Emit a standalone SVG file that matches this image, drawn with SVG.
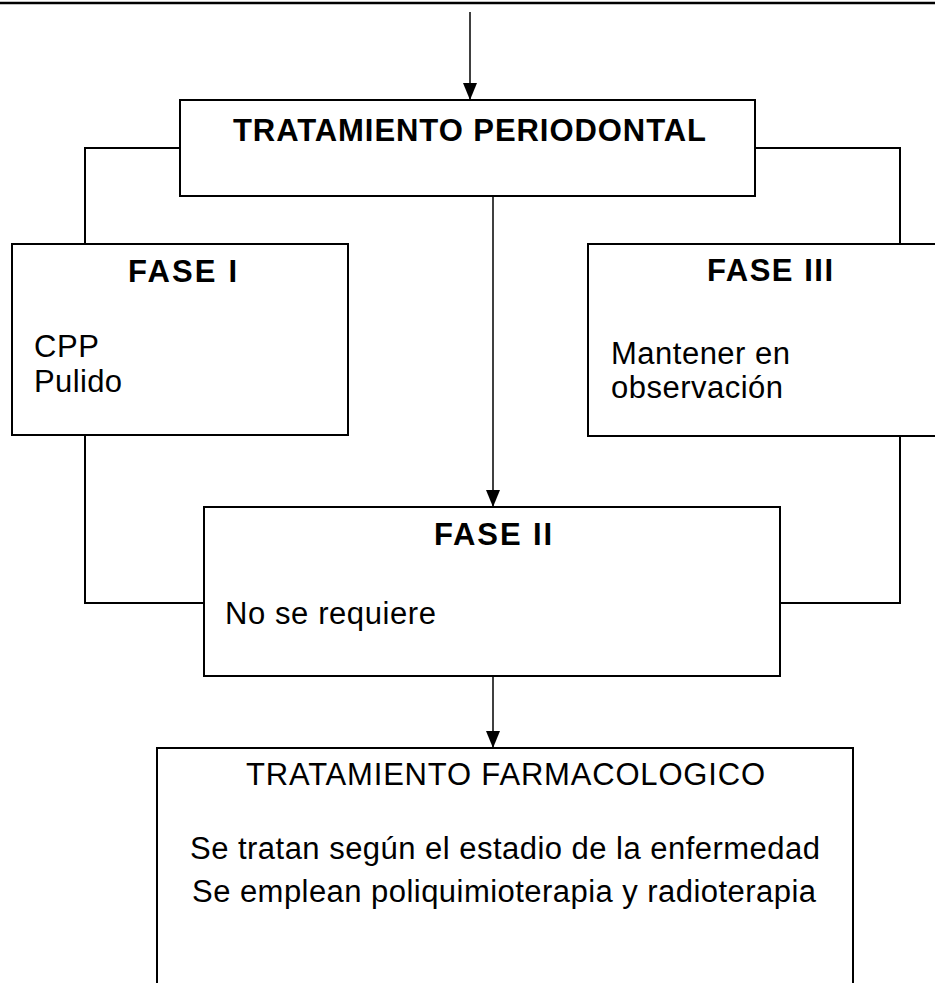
<svg xmlns="http://www.w3.org/2000/svg" width="935" height="983" viewBox="0 0 935 983">
<style>
.box{fill:#fff;stroke:#000;stroke-width:2}
.ln{fill:none;stroke:#000;stroke-width:2}
.ar{fill:none;stroke:#000;stroke-width:1.5}
.t{font-family:"Liberation Sans",Arial,sans-serif;font-size:31px;fill:#000}
.b{font-weight:bold}
</style>
<defs>
<marker id="a2" markerUnits="userSpaceOnUse" markerWidth="18" markerHeight="16" viewBox="0 0 18 16" refX="17" refY="8" orient="auto">
<path d="M0,1 L17,8 L0,15 Z" fill="#000"/>
</marker>
</defs>
<line x1="0" y1="3" x2="935" y2="3" stroke="#000" stroke-width="2.5"/>
<g id="connectors">
<line class="ar" x1="470" y1="12" x2="470" y2="100" marker-end="url(#a2)"/>
<line class="ar" x1="493" y1="196" x2="493" y2="507" marker-end="url(#a2)"/>
<line class="ar" x1="493" y1="676" x2="493" y2="748" marker-end="url(#a2)"/>
<polyline class="ln" points="180,148 85,148 85,244"/>
<polyline class="ln" points="755,148 900,148 900,244"/>
<polyline class="ln" points="85,435 85,603 204,603"/>
<polyline class="ln" points="900,436 900,603 780,603"/>
</g>
<g id="tratamiento-periodontal">
<rect class="box" x="180" y="100" width="575" height="96"/>
<text class="t b" x="233" y="141" textLength="473" lengthAdjust="spacing">TRATAMIENTO PERIODONTAL</text>
</g>
<g id="fase-1">
<rect class="box" x="12" y="244" width="336" height="191"/>
<text class="t b" x="128" y="282" textLength="109" lengthAdjust="spacing">FASE I</text>
<text class="t" x="34" y="357" textLength="65" lengthAdjust="spacing">CPP</text>
<text class="t" x="34" y="392" textLength="88" lengthAdjust="spacing">Pulido</text>
</g>
<g id="fase-3">
<rect class="box" x="588" y="244" width="364" height="192"/>
<text class="t b" x="707" y="281" textLength="126" lengthAdjust="spacing">FASE III</text>
<text class="t" x="611" y="364" textLength="179" lengthAdjust="spacing">Mantener en</text>
<text class="t" x="611" y="398" textLength="172" lengthAdjust="spacing">observación</text>
</g>
<g id="fase-2">
<rect class="box" x="204" y="507" width="576" height="169"/>
<text class="t b" x="434" y="545" textLength="118" lengthAdjust="spacing">FASE II</text>
<text class="t" x="225" y="624" textLength="211" lengthAdjust="spacing">No se requiere</text>
</g>
<g id="tratamiento-farmacologico">
<rect class="box" x="157" y="748" width="696" height="250"/>
<text class="t" x="246" y="785" textLength="519" lengthAdjust="spacing">TRATAMIENTO FARMACOLOGICO</text>
<text class="t" x="190" y="859" textLength="630" lengthAdjust="spacing">Se tratan según el estadio de la enfermedad</text>
<text class="t" x="192" y="902" textLength="624" lengthAdjust="spacing">Se emplean poliquimioterapia y radioterapia</text>
</g>
</svg>
